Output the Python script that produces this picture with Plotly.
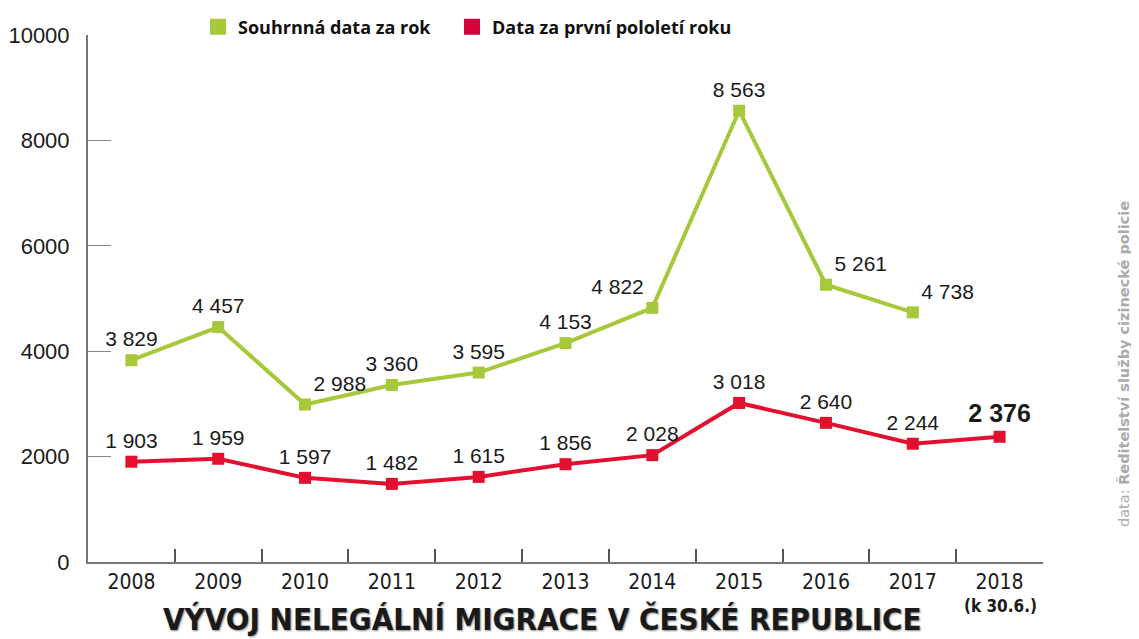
import plotly.graph_objects as go

# data
YEARS = ["2008", "2009", "2010", "2011", "2012", "2013", "2014", "2015", "2016", "2017", "2018"]
TOTAL = [3829, 4457, 2988, 3360, 3595, 4153, 4822, 8563, 5261, 4738]
HALF = [1903, 1959, 1597, 1482, 1615, 1856, 2028, 3018, 2640, 2244, 2376]

GREEN = "#a6c83a"
RED = "#e2102e"
RED_LEG = "#d6003a"
NARROW = "Liberation Sans Narrow, DejaVu Sans Condensed, Arial Narrow, sans-serif"
SANS = "Liberation Sans, Arial, sans-serif"
LEG_FONT = dict(family="Open Sans, Lato, sans-serif", size=18, color="#111", weight="bold")

# label placement for the green series
TOTAL_POS = ["top center", "top center", "top right", "top center", "top center",
             "top center", "top left", "top center", "top right", "top right"]

# the page body adds an 8px offset, so the figure is drawn slightly smaller
W, H = 1131, 631
PL, PT, PW, PH = 80, 27, 955, 527


def fmt(v):
    return f"{v:,}".replace(",", " ")


def px(x):
    # reference pixel -> paper x
    return (x - 88) / PW


def py(y):
    # reference pixel -> paper y
    return (562 - y) / PH


fig = go.Figure()

fig.add_trace(
    go.Scatter(
        x=YEARS[:len(TOTAL)],
        y=TOTAL,
        mode="lines+markers+text",
        line=dict(color=GREEN, width=4),
        marker=dict(symbol="square", size=12, color=GREEN),
        text=[fmt(v) for v in TOTAL],
        textposition=TOTAL_POS,
        textfont=dict(family=SANS, size=21, color="#1a1a1a"),
        showlegend=False,
        cliponaxis=False,
    )
)

half_text = [fmt(v) for v in HALF]
half_text[-1] = "<b>" + half_text[-1] + "</b>"
half_size = [21] * len(HALF)
half_size[-1] = 25

fig.add_trace(
    go.Scatter(
        x=YEARS,
        y=HALF,
        mode="lines+markers+text",
        line=dict(color=RED, width=4),
        marker=dict(symbol="square", size=12, color=RED),
        text=half_text,
        textposition="top center",
        textfont=dict(family=SANS, size=half_size, color="#1a1a1a"),
        showlegend=False,
        cliponaxis=False,
    )
)

# legend-only entries, each in its own legend box
fig.add_trace(
    go.Scatter(
        x=[None], y=[None], mode="markers",
        marker=dict(symbol="square", size=18, color=GREEN),
        name="Souhrnná data za rok", legend="legend",
    )
)
fig.add_trace(
    go.Scatter(
        x=[None], y=[None], mode="markers",
        marker=dict(symbol="square", size=18, color=RED_LEG),
        name="Data za první pololetí roku", legend="legend2",
    )
)

fig.update_layout(
    width=W,
    height=H,
    margin=dict(l=PL, r=W - PL - PW, t=PT, b=H - PT - PH, autoexpand=False),
    plot_bgcolor="white",
    paper_bgcolor="white",
    legend=dict(
        orientation="h", x=px(198), xanchor="left", y=py(27), yanchor="middle",
        font=LEG_FONT, itemwidth=30, bgcolor="rgba(0,0,0,0)",
    ),
    legend2=dict(
        orientation="h", x=px(452), xanchor="left", y=py(27), yanchor="middle",
        font=LEG_FONT, itemwidth=30, bgcolor="rgba(0,0,0,0)",
    ),
    xaxis=dict(
        type="category",
        range=[-0.5, 10.5],
        tickson="boundaries",
        ticks="inside",
        ticklen=13,
        tickwidth=1.5,
        tickcolor="#555",
        showline=True,
        linecolor="#777",
        linewidth=2,
        showgrid=False,
        tickfont=dict(family=NARROW, size=21, color="#1a1a1a"),
    ),
    yaxis=dict(
        range=[0, 10000],
        tickvals=[0, 2000, 4000, 6000, 8000, 10000],
        tickformat="d",
        ticks="inside",
        ticklen=23,
        tickwidth=1,
        tickcolor="#888",
        ticklabelstandoff=12,
        showline=True,
        linecolor="#777",
        linewidth=2,
        showgrid=False,
        zeroline=False,
        tickfont=dict(family=SANS, size=22, color="#1a1a1a"),
    ),
    annotations=[
        dict(
            text="(k 30.6.)",
            xref="paper", yref="paper",
            x=px(1000), y=py(606),
            xanchor="center", yanchor="middle",
            showarrow=False,
            font=dict(family=NARROW, size=17, color="#1a1a1a", weight="bold"),
        ),
        dict(
            text="VÝVOJ NELEGÁLNÍ MIGRACE V ČESKÉ REPUBLICE",
            xref="paper", yref="paper",
            x=px(542), y=py(619),
            xanchor="center", yanchor="middle",
            showarrow=False,
            font=dict(family=NARROW, size=31, color="#1a1a1a", weight="bold",
                      shadow="1px 1px 2px #888"),
        ),
        dict(
            text="data: <b>Ředitelství služby cizinecké policie</b>",
            xref="paper", yref="paper",
            x=px(1124), y=py(364),
            xanchor="center", yanchor="middle",
            textangle=-90,
            showarrow=False,
            font=dict(family="DejaVu Sans, sans-serif", size=14.5, color="#aaaaaa"),
        ),
    ],
)

fig.write_html("out.html")
